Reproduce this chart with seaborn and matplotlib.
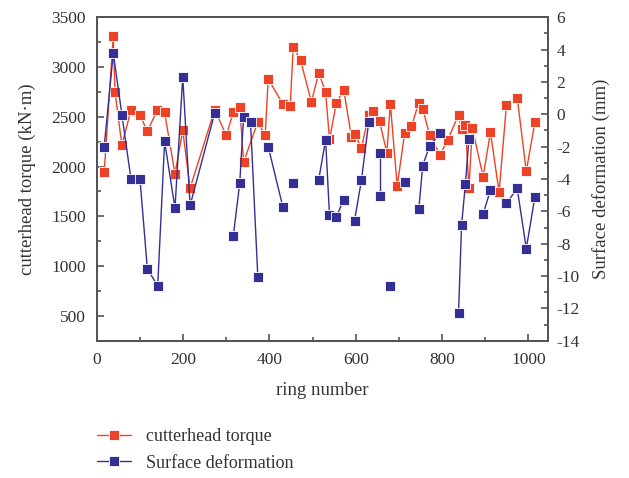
# -*- coding: utf-8 -*-
"""Cutterhead torque and surface deformation vs ring number."""

import matplotlib
matplotlib.use("Agg")
import matplotlib.pyplot as plt
import numpy as np
import pandas as pd
import seaborn as sns
from matplotlib.lines import Line2D
from matplotlib.ticker import MultipleLocator

# cutterhead torque (kN·m); seg marks where the line breaks
torque_ring = [17, 38, 42, 58, 79, 100, 117, 140, 157, 181, 199, 216, 273, 300,
               316, 331, 340, 373, 390, 397, 431, 448, 455, 472, 497, 514, 530,
               539, 555, 572, 590, 598, 613, 630, 640, 655, 672, 680, 696, 713,
               729, 746, 755, 771, 795, 813, 838, 845, 854, 862, 870, 895, 912,
               932, 949, 974, 995, 1015]
torque_val = [1943, 3310, 2750, 2213, 2570, 2517, 2353, 2567, 2543, 1927, 2363,
              1783, 2570, 2313, 2543, 2603, 2043, 2450, 2313, 2880, 2627, 2607,
              3203, 3070, 2647, 2940, 2750, 2273, 2640, 2773, 2293, 2323, 2187,
              2520, 2560, 2453, 2140, 2630, 1803, 2333, 2403, 2643, 2583, 2317,
              2117, 2270, 2517, 2377, 2420, 1780, 2383, 1900, 2343, 1743, 2617,
              2693, 1953, 2447]
torque_seg = [0] * 55 + [1] * 3

# surface deformation (mm)
deform_ring = [17, 38, 58, 79, 100, 117, 141, 157, 181, 199, 216, 273,
               316, 331, 340, 356, 373,
               397, 431,
               455,
               514, 530, 539, 555, 572,
               597, 613, 630,
               655, 655,
               680,
               713,
               746, 755, 771, 795,
               838, 845, 854, 862,
               895, 912,
               949, 974, 995, 1015]
deform_val = [-2.0, 3.78, -0.03, -4.0, -4.02, -9.57, -10.59, -1.67, -5.81, 2.32, -5.63, 0.07,
              -7.54, -4.27, -0.19, -0.48, -10.07,
              -2.0, -5.73,
              -4.27,
              -4.04, -1.59, -6.22, -6.33, -5.27,
              -6.57, -4.08, -0.46,
              -2.42, -5.05,
              -10.59,
              -4.17,
              -5.85, -3.18, -1.94, -1.18,
              -12.29, -6.86, -4.29, -1.55,
              -6.16, -4.68,
              -5.5, -4.58, -8.3, -5.09]
deform_seg = ([0] * 12 + [1] * 5 + [2] * 2 + [3] + [4] * 5 + [5] * 3 + [6] * 2
              + [7] + [8] + [9] * 4 + [10] * 4 + [11] * 2 + [12] * 4)

RED = "#ec4326"
BLUE = "#332f95"
TXT = "#333333"

sns.set_style("ticks")
plt.rcParams["font.family"] = ["Liberation Serif", "DejaVu Serif"]
plt.rcParams["axes.unicode_minus"] = False

df_t = pd.DataFrame({"ring": torque_ring, "val": torque_val, "seg": torque_seg})
df_d = pd.DataFrame({"ring": deform_ring, "val": deform_val, "seg": deform_seg})

fig = plt.figure(figsize=(6.29, 4.78), dpi=100)
ax = fig.add_axes([0.154, 0.287, 0.717, 0.677])
ax2 = ax.twinx()

mk = dict(marker="s", markersize=7, markeredgecolor="white", markeredgewidth=0.6)

sns.lineplot(data=df_t, x="ring", y="val", units="seg", estimator=None, sort=False,
             color=RED, linewidth=1.0, ax=ax, legend=False, **mk)
sns.lineplot(data=df_d, x="ring", y="val", units="seg", estimator=None, sort=False,
             color=BLUE, linewidth=1.0, ax=ax2, legend=False, **mk)

ax.set_xlim(0, 1045)
ax.set_ylim(250, 3500)
ax2.set_ylim(-14, 6)

ax.xaxis.set_major_locator(MultipleLocator(200))
ax.xaxis.set_minor_locator(MultipleLocator(100))
ax.yaxis.set_major_locator(MultipleLocator(500))
ax.yaxis.set_minor_locator(MultipleLocator(250))
ax2.yaxis.set_major_locator(MultipleLocator(2))
ax2.yaxis.set_minor_locator(MultipleLocator(1))

for a in (ax, ax2):
    for s in a.spines.values():
        s.set_color("#555555")
        s.set_linewidth(1.4)
    a.tick_params(which="both", direction="in", color="#555555", width=1.2,
                  labelsize=12.5, labelcolor=TXT)
    a.tick_params(which="major", length=5)
    a.tick_params(which="minor", length=3)

ax.tick_params(axis="x", which="both", top=False, pad=8)
ax.tick_params(axis="y", which="both", pad=8)
ax2.tick_params(axis="y", which="both", pad=6)
ax.set_xlabel("ring number", fontsize=13.5, color=TXT, labelpad=10)
ax.set_ylabel("cutterhead torque (kN·m)", fontsize=13.5, color=TXT, labelpad=11)
ax2.set_ylabel("Surface deformation (mm)", fontsize=13.5, color=TXT, labelpad=9)

handles = [
    Line2D([], [], color=RED, linewidth=1.0, **mk),
    Line2D([], [], color=BLUE, linewidth=1.0, **mk),
]
fig.legend(handles, ["cutterhead torque", "Surface deformation"],
           loc="center left", bbox_to_anchor=(0.154, 0.059), frameon=False,
           fontsize=13, handlelength=1.9, handletextpad=0.8, labelspacing=0.55,
           borderpad=0, borderaxespad=0, labelcolor=TXT)

fig.savefig("out.png", dpi=100)
